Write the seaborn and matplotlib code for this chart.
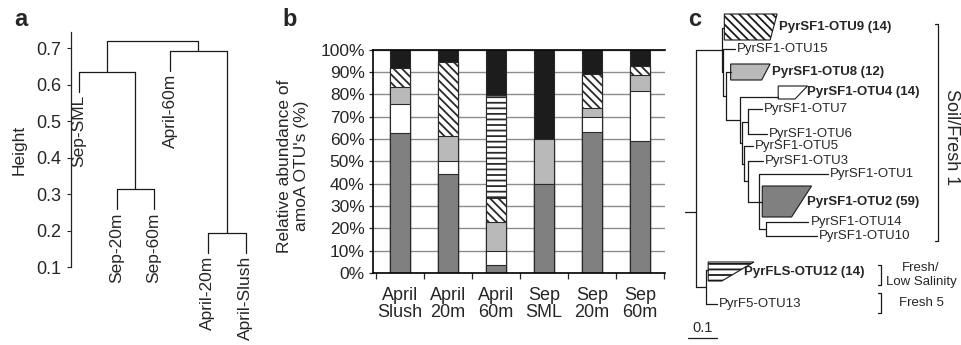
import matplotlib
matplotlib.use('Agg')
import numpy as np
import matplotlib.pyplot as plt
import seaborn as sns

# ---------------- a: clustering of samples ----------------
leaf_names = ['Sep-SML', 'Sep-20m', 'Sep-60m', 'April-60m', 'April-20m', 'April-Slush']
leaf_x = [1.0, 2.0, 2.99, 3.42, 4.42, 5.42]
# R-style merge table: negative = leaf (1-based), positive = earlier merge
merge_a = [-2, -5, -1, -4, 3]
merge_b = [-3, -6, 1, 2, 4]
merge_h = [0.315, 0.195, 0.636, 0.694, 0.721]
hang = 0.055

# ---------------- b: relative abundance of amoA OTUs (%) ----------------
samples = ['April\nSlush', 'April\n20m', 'April\n60m', 'Sep\nSML', 'Sep\n20m', 'Sep\n60m']
otu2 = [62.5, 44.5, 3.5, 40.0, 63.0, 59.0]
otu4 = [13.0, 5.5, 6.5, 0.0, 7.0, 22.5]
otu8 = [8.0, 11.5, 13.0, 20.0, 4.0, 7.0]
otu9 = [8.5, 33.0, 10.5, 0.0, 15.0, 4.0]
otu12 = [0.0, 0.0, 46.0, 0.0, 0.0, 0.0]
other = [8.0, 5.5, 20.5, 40.0, 11.0, 7.5]

# ---------------- c: amoA tree ----------------
tree_nodes = ['R', 'A', 'OTU9', 'B', 'OTU15', 'C', 'OTU8', 'E', 'OTU4', 'F', 'G', 'OTU7', 'OTU6',
              'H', 'OTU5', 'I', 'OTU3', 'J', 'OTU1', 'OTU2', 'K', 'OTU14', 'OTU10',
              'L', 'OTU12', 'OTU13']
tree_parent = [None, 'R', 'A', 'A', 'B', 'B', 'C', 'C', 'E', 'E', 'F', 'G', 'G',
               'F', 'H', 'H', 'I', 'I', 'J', 'J', 'J', 'K', 'K',
               'R', 'L', 'L']
tree_branch = [0.038, 0.0886, 0.009, 0.0055, 0.040, 0.0093, 0.016, 0.048, 0.132, 0.007, 0.022, 0.046, 0.064,
               0.007, 0.031, 0.014, 0.052, 0.038, 0.238, 0.011, 0.024, 0.146, 0.175,
               0.034, 0.008, 0.037]
tip_names = ['OTU9', 'OTU15', 'OTU8', 'OTU4', 'OTU7', 'OTU6', 'OTU5', 'OTU3', 'OTU1',
             'OTU2', 'OTU14', 'OTU10', 'OTU12', 'OTU13']
tip_rows = [28, 49, 72, 97, 109, 134, 146, 161, 174, 202, 222, 236, 270, 304]
tip_labels = ['PyrSF1-OTU9 (14)', 'PyrSF1-OTU15', 'PyrSF1-OTU8 (12)', 'PyrSF1-OTU4 (14)',
              'PyrSF1-OTU7', 'PyrSF1-OTU6', 'PyrSF1-OTU5', 'PyrSF1-OTU3', 'PyrSF1-OTU1',
              'PyrSF1-OTU2 (59)', 'PyrSF1-OTU14', 'PyrSF1-OTU10', 'PyrFLS-OTU12 (14)', 'PyrF5-OTU13']
root_row = 212
# collapsed clades: top row, bottom row, depth at top, depth at bottom
clade_names = ['OTU9', 'OTU8', 'OTU4', 'OTU2', 'OTU12']
clade_top = [14, 64, 86, 186, 262]
clade_bottom = [40, 80, 99, 217, 281]
clade_depth_top = [0.182, 0.136, 0.101, 0.170, 0.158]
clade_depth_bottom = [0.158, 0.107, 0.058, 0.101, 0.047]
groups = ['Soil/Fresh 1', 'Fresh/\nLow Salinity', 'Fresh 5']
group_top = [24, 265, 293]
group_bottom = [241, 285, 313]

sns.set_style('ticks')
plt.rcParams['font.family'] = ['Liberation Sans', 'DejaVu Sans']
plt.rcParams['hatch.linewidth'] = 1.3

W, H = 962, 345
fig = plt.figure(figsize=(W / 100, H / 100), dpi=100)


def box(l, t, r, b):
    return [l / W, 1 - b / H, (r - l) / W, (b - t) / H]


lc = '#1a1a1a'
diag = '\\\\\\\\'

# ---- panel a
ax1 = fig.add_axes(box(71, 32, 290, 267.3))
nodes = []
for a, b, h in zip(merge_a, merge_b, merge_h):
    pts = []
    for c in (a, b):
        if c < 0:
            pts.append((leaf_x[-c - 1], h - hang))
        else:
            pts.append(nodes[c - 1])
    for x, y in pts:
        ax1.plot([x, x], [y, h], color=lc, lw=0.9)
    ax1.plot([pts[0][0], pts[1][0]], [h, h], color=lc, lw=0.9)
    nodes.append(((pts[0][0] + pts[1][0]) / 2, h))
for i, name in enumerate(leaf_names):
    c = -(i + 1)
    h = [hh for a, b, hh in zip(merge_a, merge_b, merge_h) if c in (a, b)][0]
    ax1.text(leaf_x[i], h - hang - 0.009, name, rotation=90, ha='center', va='top',
             fontsize=12.5, clip_on=False)
ax1.set_xlim(0.788, 6.6)
ax1.set_ylim(0.1, 0.745)
ax1.set_yticks([0.1, 0.2, 0.3, 0.4, 0.5, 0.6, 0.7])
ax1.set_xticks([])
sns.despine(ax=ax1, bottom=True)
ax1.tick_params(axis='y', labelsize=13, length=3, width=0.8, pad=4)
ax1.spines['left'].set_linewidth(0.9)
fig.text(19 / W, 1 - 150 / H, 'Height', rotation=90, ha='center', va='center', fontsize=12.5)

# ---- panel b
ax2 = fig.add_axes(box(373, 49.7, 665, 273))
layers = [(otu2, '#808080', None), (otu4, 'white', None), (otu8, '#b9b9b9', None),
          (otu9, 'white', diag), (otu12, 'white', '---'), (other, '#1c1c1c', None)]
cum = np.cumsum([np.array(v) for v, _, _ in layers], axis=0)
for k in range(len(layers) - 1, -1, -1):
    _, col, hatch = layers[k]
    sns.barplot(x=samples, y=cum[k], color=col, saturation=1, width=0.4,
                edgecolor='#2a2a2a', linewidth=0.8, hatch=hatch, ax=ax2)
ax2.set_axisbelow(True)
ax2.yaxis.grid(True, color='#8c8c8c', lw=1.0)
ax2.set_ylim(0, 100)
ax2.set_xlim(-0.5625, 5.52)
ax2.set_yticks(range(0, 101, 10))
ax2.set_yticklabels([f'{v}%' for v in range(0, 101, 10)])
ax2.set_xticks(range(6))
ax2.set_xticklabels(samples, linespacing=1.0)
ax2.set_xticks(np.arange(-0.5, 6, 1), minor=True)
ax2.tick_params(axis='x', which='major', length=0, pad=10, labelsize=13)
ax2.tick_params(axis='x', which='minor', length=4, width=0.9)
ax2.tick_params(axis='y', length=3, width=0.9, pad=3, labelsize=12.5)
ax2.spines['right'].set_visible(False)
for s in ('left', 'bottom', 'top'):
    ax2.spines[s].set_linewidth(1.2)
    ax2.spines[s].set_color('black')
ax2.set_xlabel('')
ax2.set_ylabel('')
fig.text(293 / W, 1 - 166 / H, "Relative abundance of\namoA OTU's (%)", rotation=90,
         ha='center', va='center', fontsize=12.5, linespacing=1.1)

# ---- panel c
ax3 = fig.add_axes([680 / W, 0, 282 / W, 1])
ax3.set_xlim((680 - 685) / 290, (962 - 685) / 290)
ax3.set_ylim(345, 0)
ax3.axis('off')
xpos, kids = {}, {}
for n, p, bl in zip(tree_nodes, tree_parent, tree_branch):
    xpos[n] = bl + (xpos[p] if p else 0)
    kids.setdefault(p, []).append(n)
ypos = dict(zip(tip_names, tip_rows))


def row(n):
    if n not in ypos:
        ypos[n] = (row(kids[n][0]) + row(kids[n][-1])) / 2
    return ypos[n]


for n in tree_nodes:
    row(n)
tl = dict(color=lc, lw=0.9)
ax3.plot([0, xpos['R']], [root_row, root_row], **tl)
for n, p in zip(tree_nodes, tree_parent):
    if p:
        ax3.plot([xpos[p], xpos[n]], [ypos[n], ypos[n]], **tl)
    if n in kids:
        ys = [ypos[c] for c in kids[n]]
        ax3.plot([xpos[n], xpos[n]], [min(ys), max(ys)], **tl)

fills = {'OTU9': ('white', diag), 'OTU8': ('#b9b9b9', None), 'OTU4': ('white', None),
         'OTU2': ('#808080', None), 'OTU12': ('white', '---')}
edge_at = {}
for n, t, b, dt, db in zip(clade_names, clade_top, clade_bottom, clade_depth_top, clade_depth_bottom):
    x0 = xpos[n]
    fc, hatch = fills[n]
    ax3.fill([x0, x0 + dt, x0 + db, x0], [t, t, b, b], facecolor=fc, edgecolor=lc,
             lw=0.8, hatch=hatch)
    mid = (t + b) / 2
    edge_at[n] = (x0 + dt + (db - dt) * (mid - t) / (b - t), mid)

for n, lab in zip(tip_names, tip_labels):
    if n in edge_at:
        x, y = edge_at[n]
        ax3.text(x + 0.02, y, lab, ha='left', va='center', fontsize=9.5, fontweight='bold')
    else:
        ax3.text(xpos[n] + 0.007, ypos[n], lab, ha='left', va='center', fontsize=9.5)

for g, t, b in zip(groups, group_top, group_bottom):
    bx = 0.873 if g.startswith('Soil') else 0.676
    ax3.plot([bx - 0.012, bx, bx, bx - 0.012], [t, t, b, b], color=lc, lw=0.9)
    if g.startswith('Soil'):
        ax3.text(0.92, (t + b) / 2 + 5, g, rotation=-90, ha='center', va='center', fontsize=13)
    else:
        ax3.text(0.814, (t + b) / 2, g, ha='center', va='center', fontsize=9.5,
                 linespacing=1.15)

ax3.plot([0.012, 0.112], [338, 338], color=lc, lw=0.9)
ax3.text(0.062, 335, '0.1', ha='center', va='bottom', fontsize=10.5)

# panel letters
for letter, x in (('a', 14), ('b', 282), ('c', 688)):
    fig.text(x / W, 1 - 26 / H, letter, fontsize=17, fontweight='bold', ha='left', va='baseline')

fig.savefig('out.png', dpi=100)
